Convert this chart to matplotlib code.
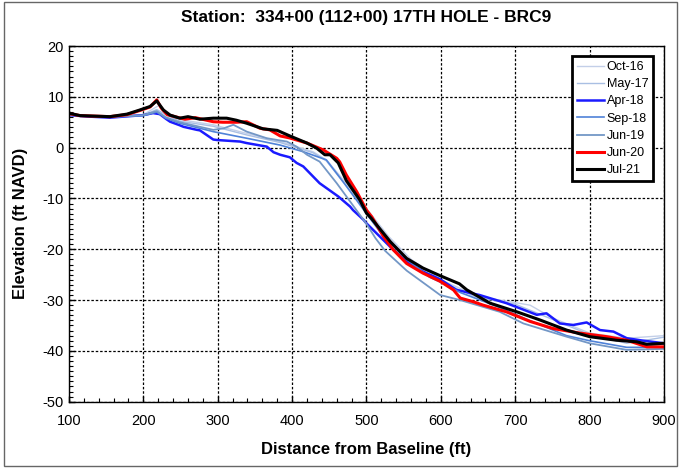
import matplotlib
matplotlib.use('Agg')
import matplotlib.pyplot as plt
from matplotlib.ticker import MultipleLocator
from matplotlib.patches import Rectangle

plt.rcParams['font.family'] = ['Liberation Sans', 'DejaVu Sans']
plt.rcParams['axes.unicode_minus'] = False

# Beach profile surveys: distance from baseline (ft) vs elevation (ft NAVD)
oct16_x = [100, 150, 200, 215, 222, 230, 249, 294, 339, 384, 428, 446, 470, 500, 530, 560, 600, 650, 700, 720, 750, 800, 850, 900]
oct16_y = [6.6, 6.0, 6.5, 7.8, 8.4, 7.0, 5.5, 4.5, 2.8, 1.2, -0.8, -2.4, -6.5, -12.0, -17.5, -22.0, -26.0, -29.3, -30.5, -31.0, -33.5, -36.5, -37.5, -37.0]

may17_x = [100, 150, 200, 218, 230, 249, 294, 339, 384, 428, 446, 470, 500, 530, 560, 600, 650, 700, 750, 800, 850, 900]
may17_y = [6.5, 6.0, 6.4, 7.5, 6.5, 5.2, 4.2, 2.5, 1.0, -1.0, -2.6, -7.0, -12.5, -18.0, -22.5, -26.5, -29.5, -30.8, -33.8, -36.8, -38.5, -37.3]

apr18_x = [100, 128, 155, 173, 200, 213, 222, 231, 236, 249, 254, 272, 276, 294, 299, 330, 339, 366, 375, 384, 397, 406, 415, 437, 462, 478, 482, 496, 500, 518, 536, 554, 576, 599, 621, 652, 688, 706, 729, 742, 760, 778, 796, 814, 832, 850, 868, 900]
apr18_y = [6.4, 6.1, 5.9, 6.1, 6.4, 6.8, 6.6, 5.6, 5.1, 4.4, 4.1, 3.5, 3.4, 1.6, 1.5, 1.2, 0.9, 0.2, -0.9, -1.4, -1.9, -3.0, -3.7, -7.0, -9.6, -11.6, -12.3, -14.2, -14.9, -17.5, -20.1, -22.4, -24.4, -25.9, -28.0, -29.0, -30.6, -31.6, -32.9, -32.6, -34.6, -34.9, -34.4, -35.9, -36.2, -37.5, -37.9, -38.5]

sep18_x = [100, 150, 200, 218, 230, 249, 294, 339, 384, 415, 446, 470, 500, 523, 554, 585, 600, 626, 680, 711, 769, 800, 850, 900]
sep18_y = [6.4, 6.0, 6.3, 7.0, 5.8, 4.8, 3.15, 1.85, 0.5, -0.8, -2.4, -7.0, -13.0, -17.5, -22.0, -25.5, -26.5, -28.5, -31.5, -33.5, -37.0, -38.0, -39.3, -39.3]

jun19_x = [100, 150, 200, 218, 230, 249, 294, 308, 321, 339, 366, 393, 406, 420, 437, 460, 480, 500, 512, 525, 554, 585, 599, 626, 679, 711, 769, 800, 850, 900]
jun19_y = [6.5, 6.0, 6.4, 7.2, 6.0, 5.0, 3.5, 3.8, 4.5, 3.15, 1.85, 1.2, 0.2, -1.4, -2.75, -7.0, -11.0, -15.0, -17.8, -20.3, -24.2, -27.5, -29.0, -30.0, -32.3, -34.6, -37.2, -38.5, -39.8, -39.6]

jun20_x = [100, 115, 155, 178, 195, 209, 218, 224, 232, 245, 256, 270, 294, 307, 325, 339, 357, 370, 384, 397, 420, 442, 449, 460, 464, 473, 487, 500, 507, 523, 536, 554, 576, 599, 617, 626, 643, 657, 688, 720, 751, 787, 823, 850, 877, 900]
jun20_y = [6.7, 6.3, 6.1, 6.5, 7.3, 8.0, 9.4, 7.8, 6.5, 6.0, 5.6, 5.9, 5.1, 5.0, 5.0, 5.1, 3.8, 3.5, 2.3, 1.9, 0.9, -0.45, -1.1, -2.1, -2.8, -5.4, -8.7, -12.3, -13.6, -17.5, -20.1, -22.8, -24.7, -26.3, -28.0, -29.6, -30.3, -31.0, -32.3, -34.2, -35.6, -36.5, -37.2, -37.9, -39.2, -39.2]

jul21_x = [100, 115, 155, 178, 195, 209, 218, 227, 236, 249, 260, 276, 294, 312, 325, 339, 361, 380, 397, 420, 433, 444, 451, 462, 473, 491, 500, 507, 532, 554, 576, 599, 625, 635, 666, 702, 733, 769, 800, 836, 863, 877, 900]
jul21_y = [6.8, 6.3, 6.1, 6.6, 7.4, 8.1, 9.2, 7.4, 6.4, 5.8, 6.1, 5.6, 5.8, 5.8, 5.4, 4.8, 3.7, 3.4, 2.3, 0.9, -0.1, -1.4, -1.4, -3.0, -6.5, -10.3, -12.9, -14.0, -18.5, -21.8, -23.7, -25.2, -26.8, -28.0, -30.6, -32.3, -33.9, -35.9, -37.2, -37.9, -38.2, -38.7, -38.5]

fig = plt.figure(figsize=(6.81, 4.71), dpi=100)
ax = fig.add_axes([0.1013, 0.1471, 0.8737, 0.7552])

# outer frame around the whole chart
fig.patches.append(Rectangle((0.006, 0.011), 0.988, 0.985, transform=fig.transFigure,
                             fill=False, edgecolor='#666666', linewidth=1.0))

ax.plot(oct16_x, oct16_y, color='#c3cfe8', lw=1.0, label='Oct-16')
ax.plot(may17_x, may17_y, color='#a9bfe3', lw=1.0, label='May-17')
ax.plot(apr18_x, apr18_y, color='#1a1aff', lw=1.8, label='Apr-18')
ax.plot(sep18_x, sep18_y, color='#4f82d8', lw=1.2, label='Sep-18')
ax.plot(jun19_x, jun19_y, color='#7397c6', lw=1.3, label='Jun-19')
ax.plot(jun20_x, jun20_y, color='#ff0000', lw=2.2, label='Jun-20')
ax.plot(jul21_x, jul21_y, color='#000000', lw=2.2, label='Jul-21')

ax.set_xlim(100, 900)
ax.set_ylim(-50, 20)
ax.xaxis.set_major_locator(MultipleLocator(100))
ax.xaxis.set_minor_locator(MultipleLocator(20))
ax.yaxis.set_major_locator(MultipleLocator(10))
ax.yaxis.set_minor_locator(MultipleLocator(1))
ax.tick_params(which='both', direction='in', labelsize=10.5, top=False, right=False)
ax.tick_params(which='major', length=4, width=1)
ax.tick_params(which='minor', length=3, width=0.8)
ax.tick_params(axis='x', which='major', pad=9)
ax.grid(True, which='major', color='black', linestyle=(0, (2, 1.5)), linewidth=0.9)
ax.set_axisbelow(True)
for sp in ax.spines.values():
    sp.set_linewidth(1.0)

ax.set_title('Station:  334+00 (112+00) 17TH HOLE - BRC9', fontsize=12.5, fontweight='bold', pad=17)
ax.set_xlabel('Distance from Baseline (ft)', fontsize=12, fontweight='bold', labelpad=10)
ax.set_ylabel('Elevation (ft NAVD)', fontsize=12, fontweight='bold', labelpad=11)

leg = ax.legend(loc='upper right', bbox_to_anchor=(0.982, 0.972), borderaxespad=0,
                fontsize=9, fancybox=False, framealpha=1, edgecolor='black',
                handlelength=2.2, handletextpad=0.2, labelspacing=0.42)
leg.get_frame().set_linewidth(2.0)

fig.savefig('out.png', dpi=100)
